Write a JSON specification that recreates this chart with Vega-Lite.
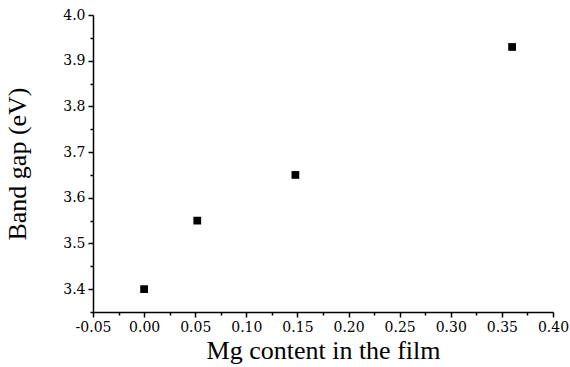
{
  "$schema": "https://vega.github.io/schema/vega-lite/v6.json",
  "width": 460,
  "height": 297,
  "autosize": "none",
  "padding": {"left": 93, "top": 15, "right": 17, "bottom": 55},
  "background": "white",
  "config": {"view": {"stroke": null}, "font": "Liberation Serif"},
  "data": {"values": [
    {"mg": 0.0, "gap": 3.40},
    {"mg": 0.052, "gap": 3.55},
    {"mg": 0.148, "gap": 3.65},
    {"mg": 0.36, "gap": 3.93}
  ]},
  "mark": {"type": "square", "size": 60, "color": "black", "opacity": 1},
  "encoding": {
    "x": {
      "field": "mg", "type": "quantitative",
      "scale": {"domain": [-0.05, 0.40], "nice": false, "zero": false},
      "axis": {
        "title": "Mg content in the film",
        "values": [-0.05, -0.025, 0, 0.025, 0.05, 0.075, 0.1, 0.125, 0.15, 0.175, 0.2, 0.225, 0.25, 0.275, 0.3, 0.325, 0.35, 0.375, 0.4],
        "labelExpr": "abs(round(datum.value*1000)) % 50 == 0 ? replace(format(datum.value, '.2f'), '\u2212', '-') : ''",
        "tickSize": {"condition": {"test": "abs(round(datum.value*1000)) % 50 == 0", "value": 5}, "value": 3},
        "domainColor": "black", "tickColor": "black", "domainWidth": 1.5, "tickWidth": 1.5,
        "labelFont": "DejaVu Serif", "labelFontSize": 14, "labelFontWeight": "normal", "labelColor": "black",
        "labelPadding": 3, "labelFlush": false, "labelOverlap": false,
        "titleFont": "Liberation Serif", "titleFontSize": 26, "titleFontWeight": "normal", "titleColor": "black",
        "titlePadding": 3, "grid": false
      }
    },
    "y": {
      "field": "gap", "type": "quantitative",
      "scale": {"domain": [3.35, 4.0], "nice": false, "zero": false},
      "axis": {
        "title": "Band gap (eV)",
        "values": [3.35, 3.4, 3.45, 3.5, 3.55, 3.6, 3.65, 3.7, 3.75, 3.8, 3.85, 3.9, 3.95, 4.0],
        "labelExpr": "round(datum.value*100) % 10 == 0 ? format(datum.value, '.1f') : ''",
        "tickSize": {"condition": {"test": "round(datum.value*100) % 10 == 0", "value": 5}, "value": 3},
        "domainColor": "black", "tickColor": "black", "domainWidth": 1.5, "tickWidth": 1.5,
        "labelFont": "DejaVu Serif", "labelFontSize": 14, "labelFontWeight": "normal", "labelColor": "black",
        "labelPadding": 3, "labelFlush": false, "labelOverlap": false,
        "titleFont": "Liberation Serif", "titleFontSize": 26, "titleFontWeight": "normal", "titleColor": "black",
        "titlePadding": 32, "grid": false
      }
    }
  }
}
